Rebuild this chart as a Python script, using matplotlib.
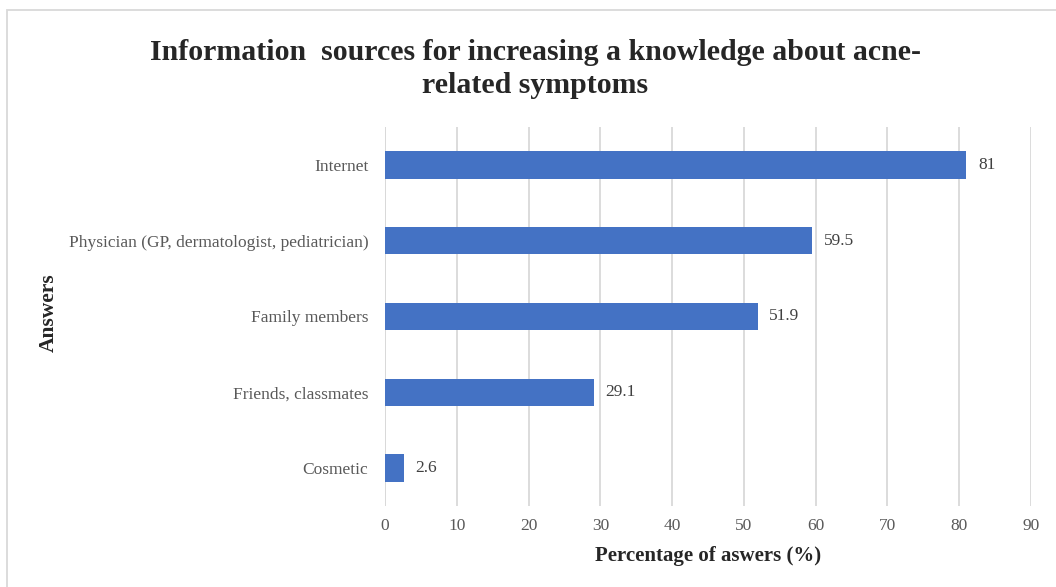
import matplotlib
matplotlib.use("Agg")
import matplotlib.pyplot as plt
from matplotlib.patches import Rectangle

categories = ["Internet", "Physician (GP, dermatologist, pediatrician)",
              "Family members", "Friends, classmates", "Cosmetic"]
values = [81, 59.5, 51.9, 29.1, 2.6]
x_ticks = [0, 10, 20, 30, 40, 50, 60, 70, 80, 90]

W, H = 1056, 587
fig = plt.figure(figsize=(W / 100, H / 100), dpi=100)
plt.rcParams["font.family"] = ["Liberation Serif", "DejaVu Serif"]

# chart frame
fig.patches.append(Rectangle((7 / W, -0.05), 1.1, 1 - 10 / H + 0.05,
                             transform=fig.transFigure, fill=False,
                             edgecolor="#d9d9d9", linewidth=1.3))

ax = fig.add_axes([385 / W, 1 - 506 / H, (1031 - 385) / W, (506 - 127) / H])
ypos = list(range(len(categories)))
ax.barh(ypos, values, height=0.36, color="#4472C4", zorder=3)
ax.set_ylim(len(categories) - 0.5, -0.5)
ax.set_xlim(0, 90)
ax.set_xticks(x_ticks)
ax.set_yticks(ypos)
ax.set_yticklabels(categories)
ax.grid(axis="x", color="#d9d9d9", linewidth=1.3, zorder=0)
for s in ax.spines.values():
    s.set_visible(False)
ax.axvline(0, color="#d9d9d9", linewidth=1.3, zorder=1)
ax.tick_params(length=0, labelsize=12.5, labelcolor="#595959")
ax.tick_params(axis="x", pad=9)
ax.tick_params(axis="y", pad=12)

for y, v in zip(ypos, values):
    ax.text(v + 1.6, y, f"{v:g}", va="center", ha="left",
            fontsize=12.5, color="#404040")

ax.set_xlabel("Percentage of aswers (%)", fontsize=15, fontweight="bold",
              color="#262626", labelpad=8)
fig.text(49 / W, 1 - 313 / H, "Answers", rotation=90, ha="center",
         va="center", fontsize=15.5, fontweight="bold", color="#262626")

fig.text(535 / W, 1 - 69 / H,
         "Information  sources for increasing a knowledge about acne-\nrelated symptoms",
         ha="center", va="center", fontsize=21.5, fontweight="bold",
         color="#262626", linespacing=1.25)

fig.savefig("out.png", dpi=100)
